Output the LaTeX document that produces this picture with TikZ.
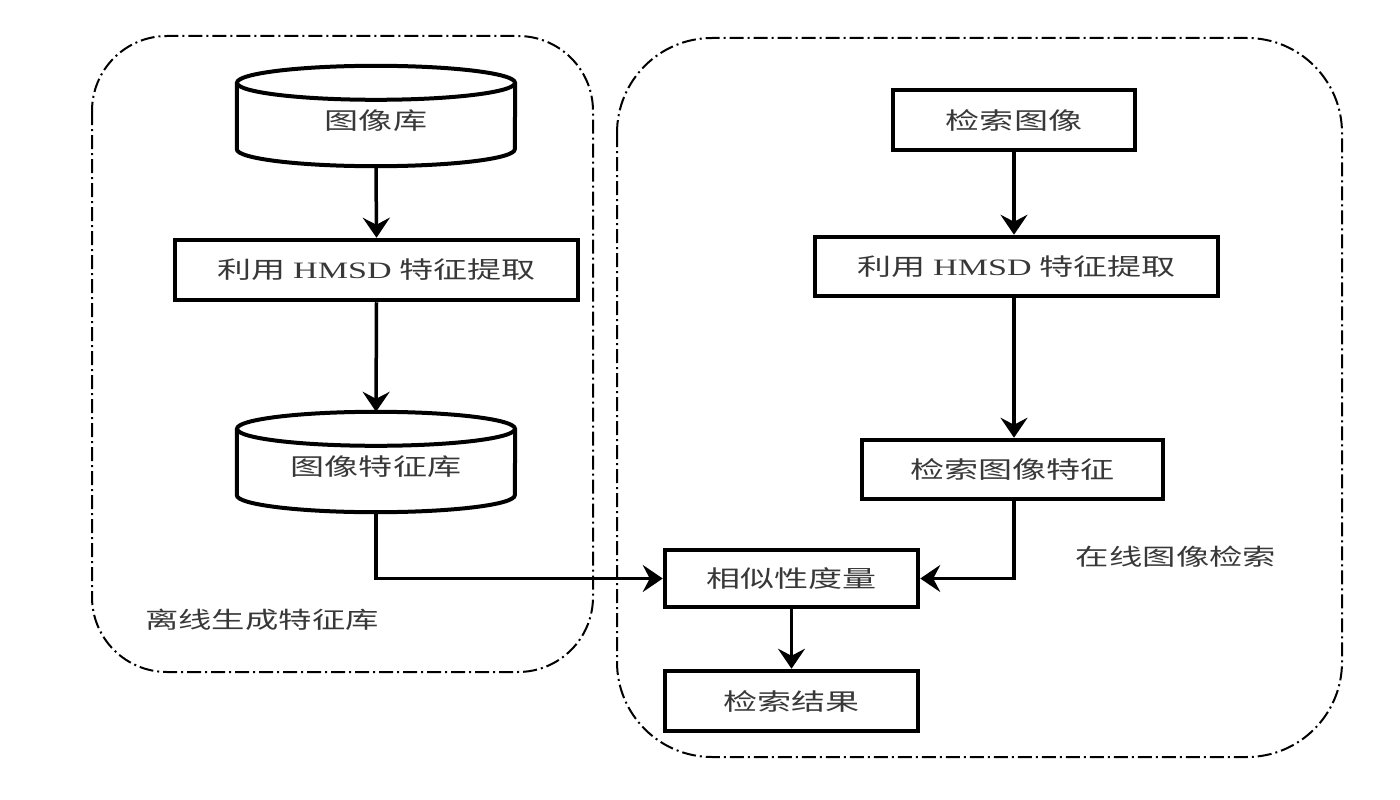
\documentclass[tikz,border=0pt]{standalone}
\usepackage{fontspec}
\setmainfont{Liberation Serif}[FakeStretch=1.45]
\newfontfamily\cjk{Noto Sans CJK SC}[FakeStretch=1.45]
\usetikzlibrary{arrows.meta,calc}
\begin{document}
\begin{tikzpicture}[x=1pt,y=-1pt,
  txt/.style={font=\cjk\fontsize{23.5}{27}\selectfont, text=black!78},
  stepbox/.style={txt, draw=black, line width=4.5pt, inner sep=0pt},
  cylnode/.style={txt, inner sep=0pt, minimum width=278pt, minimum height=100pt},
  cylline/.style={draw=black, line width=4pt},
  arr/.style={line width=3.5pt, -{Stealth[length=20pt,width=27pt,inset=7pt]}},
  region/.style={draw=black, line width=2pt, dash pattern=on 14pt off 4pt on 2pt off 4pt},
  lbl/.style={font=\cjk\fontsize{23}{27}\selectfont, text=black!78}
]
\useasboundingbox (0,0) rectangle (1400,800);
% regions
\draw[region, rounded corners=75pt] (92,36) rectangle (593,672);
\draw[region, rounded corners=95pt] (617,38) rectangle (1342,757);

% left column
\node[cylnode] (db1) at (376,116) {\raisebox{-5pt}[\height][\depth]{图像库}};
\draw[cylline] ($(db1.north west)+(0,17)$) -- ($(db1.south west)+(0,-17)$)
  arc[start angle=180,end angle=0,x radius=139,y radius=17] -- ($(db1.north east)+(0,17)$);
\draw[cylline] ($(db1.north)+(0,17)$) ellipse[x radius=139, y radius=17];

\node[stepbox, minimum width=403pt, minimum height=60pt] (h1) at (376.5,270) {利用 {\rmfamily HMSD} 特征提取};

\node[cylnode] (db2) at (376,462) {\raisebox{-5pt}[\height][\depth]{图像特征库}};
\draw[cylline] ($(db2.north west)+(0,17)$) -- ($(db2.south west)+(0,-17)$)
  arc[start angle=180,end angle=0,x radius=139,y radius=17] -- ($(db2.north east)+(0,17)$);
\draw[cylline] ($(db2.north)+(0,17)$) ellipse[x radius=139, y radius=17];

% right column
\node[stepbox, minimum width=242pt, minimum height=60pt] (q) at (1014,120) {检索图像};
\node[stepbox, minimum width=403pt, minimum height=59pt] (h2) at (1016.5,266.5) {利用 {\rmfamily HMSD} 特征提取};
\node[stepbox, minimum width=301pt, minimum height=59pt] (qf) at (1012.5,469.5) {检索图像特征};
\node[stepbox, minimum width=253pt, minimum height=57pt] (sim) at (791.5,578.5) {相似性度量};
\node[stepbox, minimum width=253pt, minimum height=60pt] (res) at (791.5,701) {检索结果};

% labels
\node[lbl] (lon) at (1176,557) {在线图像检索};
\node[lbl] (loff) at (262,620) {离线生成特征库};

% connectors
\draw[arr] (db1.south) -- (h1.north);
\draw[arr] (h1.south) -- (db2.north);
\draw[arr] (db2.south) |- (sim.west);
\draw[arr] (q.south) -- (q.south |- h2.north);
\draw[arr] (q.south |- h2.south) -- (q.south |- qf.north);
\draw[arr] (q.south |- qf.south) |- (sim.east);
\draw[arr] (sim.south) -- (res.north);
\end{tikzpicture}
\end{document}
